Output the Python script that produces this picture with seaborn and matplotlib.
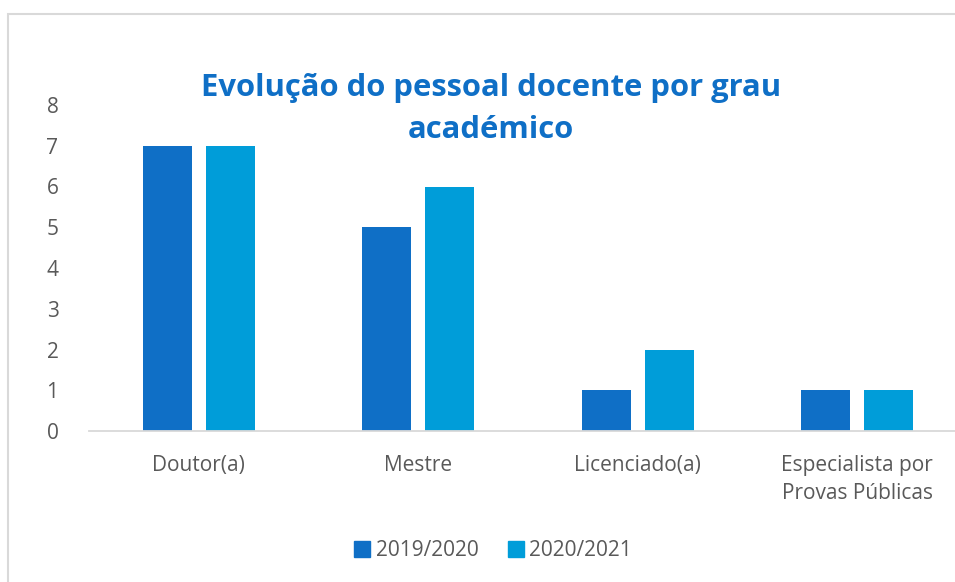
import matplotlib
matplotlib.use("Agg")
import matplotlib.pyplot as plt
import seaborn as sns
import pandas as pd
from matplotlib.patches import Rectangle

categories = ["Doutor(a)", "Mestre", "Licenciado(a)", "Especialista por\nProvas Públicas"]
series_names = ["2019/2020", "2020/2021"]
values_2019 = [7, 5, 1, 1]
values_2020 = [7, 6, 2, 1]
yticks = [0, 1, 2, 3, 4, 5, 6, 7, 8]
colors = ["#0F6FC6", "#009DD9"]

df = pd.DataFrame({
    "cat": categories * 2,
    "serie": [series_names[0]] * 4 + [series_names[1]] * 4,
    "val": values_2019 + values_2020,
})

sns.set_theme(style="white")
plt.rcParams['font.family'] = ['Open Sans', 'DejaVu Sans']

fig = plt.figure(figsize=(9.55, 5.82), dpi=100)
ax = fig.add_axes([89/955, 151/582, 878/955, 326/582])

sns.barplot(data=df, x="cat", y="val", hue="serie", palette=colors,
            order=categories, hue_order=series_names,
            width=0.574, gap=0.223, ax=ax, legend=True, errorbar=None,
            saturation=1, edgecolor="none")

ax.set_xlim(-0.5, 3.5)
ax.set_ylim(0, 8)
ax.set_yticks(yticks)
ax.set_yticklabels([str(t) for t in yticks])
ax.set_xlabel("")
ax.set_ylabel("")
for s in ["top", "right", "left"]:
    ax.spines[s].set_visible(False)
ax.spines["bottom"].set_color("#D9D9D9")
ax.spines["bottom"].set_linewidth(1.3)
ax.tick_params(axis="y", length=0, pad=22, labelsize=15, labelcolor="#595959")
ax.tick_params(axis="x", length=0, pad=17, labelsize=15, labelcolor="#595959")
for lab in ax.get_xticklabels():
    lab.set_linespacing(1.45)

leg = ax.get_legend()
leg.remove()
handles = [Rectangle((0, 0), 1, 1, color=c) for c in colors]
fig.legend(handles, series_names, loc="center", bbox_to_anchor=(493/955, 1 - 551/582),
           ncol=2, frameon=False, fontsize=15, labelcolor="#595959",
           handlelength=0.8, handleheight=0.8, handletextpad=0.25, columnspacing=1.4)

fig.text(491/955, 1 - 109/582, "Evolução do pessoal docente por grau\nacadémico",
         ha="center", va="center", fontsize=22.3, fontweight="bold", color="#0F6FC6",
         linespacing=1.5)

fig.patches.append(Rectangle((8/955, -0.1), 1.2, 1 - 14/582 + 0.1, transform=fig.transFigure,
                             fill=False, edgecolor="#D9D9D9", linewidth=1.5))

fig.savefig("out.png", dpi=100)
